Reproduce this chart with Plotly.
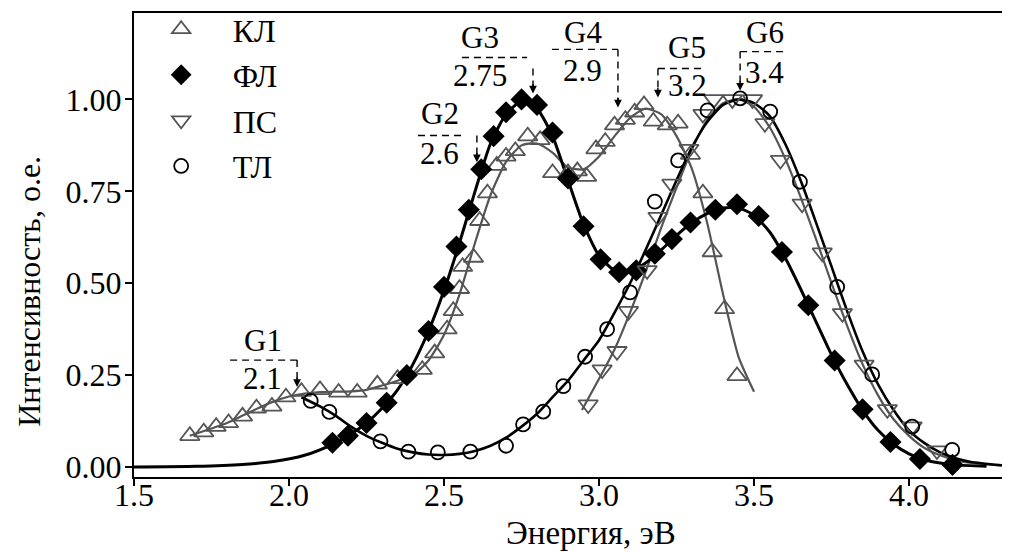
import plotly.graph_objects as go

# ---------------- data ----------------
# КЛ – open up-triangles, grey
kl_x = [1.68, 1.725, 1.765, 1.805, 1.85, 1.895, 1.945, 1.99, 2.04, 2.10, 2.16, 2.22, 2.285,
        2.35, 2.43, 2.47, 2.51, 2.53, 2.55, 2.56, 2.595, 2.615, 2.64, 2.67, 2.70, 2.73, 2.77,
        2.81, 2.85, 2.90, 2.93, 2.96, 2.99, 3.02, 3.05, 3.085, 3.115, 3.145, 3.175, 3.22,
        3.255, 3.295, 3.335, 3.365, 3.405, 3.445]
kl_y = [0.085, 0.095, 0.11, 0.12, 0.138, 0.16, 0.165, 0.19, 0.205, 0.21, 0.203, 0.203, 0.225,
        0.24, 0.265, 0.31, 0.375, 0.425, 0.485, 0.545, 0.57, 0.67, 0.745, 0.82, 0.845, 0.86, 0.90,
        0.89, 0.80, 0.80, 0.805, 0.79, 0.865, 0.885, 0.93, 0.945, 0.965, 0.985, 0.94, 0.93,
        0.935, 0.85, 0.745, 0.585, 0.43, 0.248]
kl_fit_x = [1.68, 1.75, 1.80, 1.85, 1.90, 1.95, 2.00, 2.05, 2.10, 2.15, 2.20, 2.25, 2.30, 2.35,
            2.40, 2.45, 2.50, 2.55, 2.60, 2.65, 2.70, 2.75, 2.80, 2.85, 2.90, 2.95, 3.00, 3.05,
            3.10, 3.15, 3.20, 3.25, 3.30, 3.35, 3.40, 3.45, 3.50]
kl_fit_y = [0.085, 0.105, 0.12, 0.14, 0.16, 0.178, 0.192, 0.20, 0.204, 0.205, 0.206, 0.21, 0.222,
            0.235, 0.25, 0.29, 0.36, 0.47, 0.61, 0.74, 0.83, 0.875, 0.88, 0.855, 0.815, 0.81,
            0.845, 0.90, 0.95, 0.975, 0.96, 0.90, 0.81, 0.66, 0.47, 0.30, 0.205]

# ФЛ – filled diamonds, black
fl_x = [2.14, 2.19, 2.25, 2.315, 2.38, 2.45, 2.50, 2.54, 2.58, 2.62, 2.66, 2.70, 2.75, 2.80,
        2.85, 2.90, 2.95, 3.005, 3.065, 3.12, 3.18, 3.235, 3.295, 3.375, 3.445, 3.515, 3.59,
        3.675, 3.76, 3.85, 3.94, 4.035, 4.14]
fl_y = [0.066, 0.085, 0.12, 0.175, 0.25, 0.37, 0.49, 0.60, 0.70, 0.81, 0.90, 0.965, 1.00, 0.985,
        0.91, 0.785, 0.655, 0.565, 0.53, 0.535, 0.58, 0.62, 0.665, 0.70, 0.715, 0.683, 0.585,
        0.44, 0.29, 0.157, 0.068, 0.022, 0.006]
fl_fit_x = [1.50, 1.70, 1.85, 1.95, 2.05, 2.14, 2.20, 2.25, 2.30, 2.35, 2.40, 2.45, 2.50, 2.55,
            2.60, 2.65, 2.70, 2.75, 2.80, 2.85, 2.90, 2.95, 3.00, 3.05, 3.10, 3.15, 3.20, 3.25,
            3.30, 3.35, 3.40, 3.45, 3.50, 3.55, 3.60, 3.65, 3.70, 3.75, 3.80, 3.85, 3.90, 3.95,
            4.00, 4.05, 4.10, 4.15, 4.25]
fl_fit_y = [0.0, 0.002, 0.007, 0.015, 0.032, 0.062, 0.09, 0.12, 0.16, 0.21, 0.28, 0.37, 0.48,
            0.61, 0.75, 0.88, 0.96, 0.995, 0.975, 0.90, 0.78, 0.66, 0.575, 0.535, 0.53, 0.555,
            0.59, 0.63, 0.665, 0.69, 0.705, 0.705, 0.685, 0.64, 0.57, 0.485, 0.395, 0.305,
            0.225, 0.155, 0.10, 0.062, 0.036, 0.02, 0.011, 0.006, 0.002]

# ПС – open down-triangles, grey
ps_x = [2.965, 3.01, 3.058, 3.095, 3.155, 3.19, 3.235, 3.29, 3.335, 3.37, 3.43, 3.495, 3.535,
        3.585, 3.655, 3.72, 3.785, 3.855, 3.93, 4.01, 4.09]
ps_y = [0.17, 0.265, 0.315, 0.424, 0.535, 0.68, 0.77, 0.865, 0.96, 1.0, 1.0, 1.0, 0.935,
        0.835, 0.716, 0.583, 0.418, 0.278, 0.157, 0.11, 0.045]
ps_fit_x = [2.945, 3.00, 3.05, 3.10, 3.15, 3.20, 3.25, 3.30, 3.35, 3.40, 3.45, 3.50, 3.55, 3.60,
            3.65, 3.70, 3.75, 3.80, 3.85, 3.90, 3.95, 4.00, 4.05, 4.10, 4.15, 4.20, 4.30]
ps_fit_y = [0.155, 0.24, 0.32, 0.42, 0.53, 0.65, 0.76, 0.865, 0.945, 0.99, 1.0, 0.98, 0.925,
            0.84, 0.735, 0.62, 0.50, 0.385, 0.28, 0.195, 0.13, 0.085, 0.052, 0.032, 0.019,
            0.011, 0.004]

# ТЛ – open circles, black
tl_x = [2.07, 2.13, 2.295, 2.385, 2.48, 2.585, 2.70, 2.755, 2.82, 2.885, 2.955, 3.026, 3.10,
        3.18, 3.255, 3.35, 3.455, 3.552, 3.648, 3.768, 3.881, 4.01, 4.139]
tl_y = [0.18, 0.15, 0.07, 0.042, 0.04, 0.042, 0.058, 0.116, 0.151, 0.22, 0.30, 0.375, 0.475,
        0.722, 0.834, 0.97, 1.003, 0.967, 0.776, 0.49, 0.252, 0.11, 0.047]
tl_fit_x = [2.04, 2.10, 2.15, 2.20, 2.25, 2.30, 2.35, 2.40, 2.45, 2.50, 2.55, 2.60, 2.65, 2.70,
            2.75, 2.80, 2.85, 2.90, 2.95, 3.00, 3.05, 3.10, 3.15, 3.20, 3.25, 3.30, 3.35, 3.40,
            3.45, 3.50, 3.55, 3.60, 3.65, 3.70, 3.75, 3.80, 3.85, 3.90, 3.95, 4.00, 4.05, 4.10,
            4.15, 4.20, 4.30]
tl_fit_y = [0.19, 0.165, 0.14, 0.11, 0.085, 0.066, 0.05, 0.04, 0.034, 0.033, 0.036, 0.044, 0.058,
            0.08, 0.11, 0.145, 0.19, 0.235, 0.29, 0.345, 0.42, 0.50, 0.59, 0.685, 0.78, 0.87,
            0.94, 0.985, 1.0, 0.99, 0.955, 0.88, 0.78, 0.665, 0.545, 0.425, 0.315, 0.225, 0.155,
            0.10, 0.065, 0.04, 0.024, 0.014, 0.005]

series_names = ["КЛ", "ФЛ", "ПС", "ТЛ"]

peak_names = ["G1", "G2", "G3", "G4", "G5", "G6"]
peak_values = ["2.1", "2.6", "2.75", "2.9", "3.2", "3.4"]

x_ticks = [1.5, 2.0, 2.5, 3.0, 3.5, 4.0]
x_tick_labels = ["1.5", "2.0", "2.5", "3.0", "3.5", "4.0"]
y_ticks = [0.0, 0.25, 0.5, 0.75, 1.0]
y_tick_labels = ["0.00", "0.25", "0.50", "0.75", "1.00"]

# ---------------- styling ----------------
FONT = "'Liberation Serif', 'Times New Roman', 'DejaVu Serif', serif"
GREY = "#555555"
BLACK = "#000000"

fig = go.Figure()

curves = [
    (kl_fit_x, kl_fit_y, GREY, 2.2),
    (ps_fit_x, ps_fit_y, GREY, 2.2),
    (tl_fit_x, tl_fit_y, BLACK, 2.6),
    (fl_fit_x, fl_fit_y, BLACK, 3.0),
]
for cx, cy, col, w in curves:
    fig.add_trace(go.Scatter(x=cx, y=cy, mode="lines", showlegend=False, hoverinfo="skip",
                             line=dict(color=col, width=w, shape="spline", smoothing=0.6)))

marker_sets = [
    (kl_x, kl_y, series_names[0], dict(symbol="triangle-up-open", size=17, color=GREY,
                                       line=dict(width=1.8, color=GREY))),
    (fl_x, fl_y, series_names[1], dict(symbol="diamond", size=17, color=BLACK,
                                       line=dict(width=0, color=BLACK))),
    (ps_x, ps_y, series_names[2], dict(symbol="triangle-down-open", size=17, color=GREY,
                                       line=dict(width=1.8, color=GREY))),
    (tl_x, tl_y, series_names[3], dict(symbol="circle-open", size=14, color=BLACK,
                                       line=dict(width=1.8, color=BLACK))),
]
for i, (mx, my, nm, mk) in enumerate(marker_sets):
    fig.add_trace(go.Scatter(x=mx, y=my, mode="markers", name=nm, marker=mk,
                             legendgroup=f"g{i}"))

# ---------------- peak annotations ----------------
peak_layout = [
    dict(lx=1.916, ly=0.345, vy=0.240, h=(1.81, 2.026, 0.291), a=(2.026, 0.291, 0.218)),
    dict(lx=2.487, ly=0.962, vy=0.853, h=(2.416, 2.561, 0.902), a=(2.606, 0.902, 0.829)),
    dict(lx=2.616, ly=1.168, vy=1.066, h=(2.558, 2.768, 1.114), a=(2.787, 1.084, 1.016)),
    dict(lx=2.948, ly=1.182, vy=1.079, h=(2.848, 3.061, 1.136), a=(3.061, 1.136, 0.978)),
    dict(lx=3.284, ly=1.141, vy=1.038, h=(3.19, 3.335, 1.084), a=(3.19, 1.084, 1.005)),
    dict(lx=3.535, ly=1.182, vy=1.073, h=(3.455, 3.606, 1.130), a=(3.455, 1.130, 1.024)),
]
dash_line = dict(color=BLACK, width=1.4, dash="7px,5px")
for name, val, p in zip(peak_names, peak_values, peak_layout):
    fig.add_annotation(x=p["lx"], y=p["ly"], text=name, showarrow=False,
                       xanchor="center", yanchor="middle",
                       font=dict(family=FONT, size=31, color=BLACK))
    fig.add_annotation(x=p["lx"], y=p["vy"], text=val, showarrow=False,
                       xanchor="center", yanchor="middle",
                       font=dict(family=FONT, size=31, color=BLACK))
    hx0, hx1, hy = p["h"]
    fig.add_shape(type="line", x0=hx0, x1=hx1, y0=hy, y1=hy, line=dash_line)
    ax, ay0, ay1 = p["a"]
    fig.add_shape(type="line", x0=ax, x1=ax, y0=ay0, y1=ay1 + 0.012, line=dash_line)
    fig.add_annotation(x=ax, y=ay1, ax=ax, ay=ay1 + 0.03, axref="x", ayref="y",
                       text="", showarrow=True, arrowhead=2, arrowsize=1.1,
                       arrowwidth=1.4, arrowcolor=BLACK)

# axis titles
fig.add_annotation(xref="paper", yref="paper", x=-0.121, y=0.401, text="Интенсивность, о.е.",
                   textangle=-90, showarrow=False, xanchor="center", yanchor="middle",
                   font=dict(family=FONT, size=32, color=BLACK))
fig.add_annotation(xref="paper", yref="paper", x=0.526, y=-0.12, text="Энергия, эВ",
                   showarrow=False, xanchor="center", yanchor="middle",
                   font=dict(family=FONT, size=33, color=BLACK))

fig.update_xaxes(range=[1.5, 4.303], tickvals=x_ticks, ticktext=x_tick_labels,
                 showline=True, linecolor=BLACK, linewidth=2, mirror=True,
                 ticks="outside", ticklen=7, tickwidth=1.5, tickcolor=BLACK,
                 showgrid=False, zeroline=False, ticklabelstandoff=-18,
                 tickfont=dict(family=FONT, size=32, color=BLACK))
fig.update_yaxes(range=[-0.027, 1.235], tickvals=y_ticks, ticktext=y_tick_labels,
                 showline=True, linecolor=BLACK, linewidth=2, mirror=True,
                 ticks="outside", ticklen=7, tickwidth=1.5, tickcolor=BLACK,
                 showgrid=False, zeroline=False, ticklabelstandoff=-3,
                 tickfont=dict(family=FONT, size=32, color=BLACK))

# page body has an 8px margin -> figure is 8px smaller and margins shifted
fig.update_layout(
    width=1002, height=544,
    margin=dict(l=126, r=7, t=5, b=75, autoexpand=False),
    paper_bgcolor="white", plot_bgcolor="white",
    font=dict(family=FONT, color=BLACK),
    legend=dict(x=-0.005, y=1.024, xanchor="left", yanchor="top",
                font=dict(family=FONT, size=32, color=BLACK),
                bgcolor="rgba(0,0,0,0)", tracegroupgap=1, itemwidth=93),
)

fig.write_html("out.html")
